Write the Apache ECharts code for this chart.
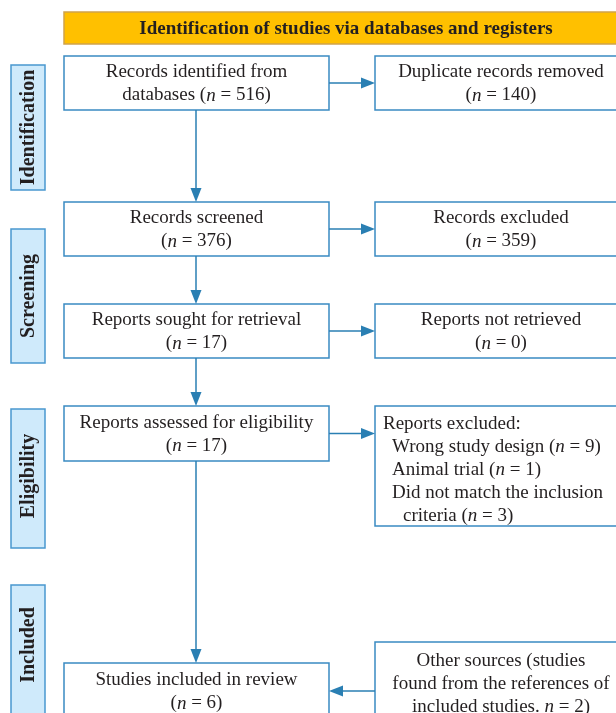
<!DOCTYPE html>
<html><head><meta charset="utf-8">
<script src="https://cdn.jsdelivr.net/npm/echarts@6/dist/echarts.min.js"></script>
<style>html,body{margin:0;padding:0;background:#fff}#c{width:616px;height:713px}</style>
</head><body><div id="c"></div><script>
// ---- data ----
const headerTitle = 'Identification of studies via databases and registers';
const stages = ['Identification', 'Screening', 'Eligibility', 'Included'];
const mainTitles = ['Records identified from\ndatabases', 'Records screened', 'Reports sought for retrieval', 'Reports assessed for eligibility', 'Studies included in review'];
const mainCounts = [516, 376, 17, 17, 6];
const sideTitles = ['Duplicate records removed', 'Records excluded', 'Reports not retrieved', 'Reports excluded:', 'Other sources (studies\nfound from the references of\nincluded studies.'];
const sideCounts = [140, 359, 0, null, 2];
const exclusionReasons = ['Wrong study design', 'Animal trial', 'Did not match the inclusion\ncriteria'];
const exclusionCounts = [9, 1, 3];

// ---- layout (in a 616 x 713 data space) ----
const layout = {
  header: [64, 12, 628, 44],
  mainX: [64, 329],
  sideX: [375, 627],
  stageX: [11, 45],
  mainY: [[56, 110], [202, 256], [304, 358], [406, 461], [663, 719]],
  sideY: [[56, 110], [202, 256], [304, 358], [406, 526], [642, 724]],
  stageY: [[65, 190], [229, 363], [409, 548], [585, 740]],
  stageLabelY: [127.5, 296, 476, 645],
  spineX: 196,
  lineH: 23,
  listX: [383, 392, 403],
  listTop: 424
};
const sty = {
  text: '#231f20',
  font: '"Liberation Serif", "Times New Roman", serif',
  size: 19,
  titleSize: 19,
  stageSize: 20,
  boxStroke: '#3a8bc2',
  arrow: '#2a7fb3',
  stageFill: '#cfeafb',
  stageStroke: '#4a98cf',
  headerFill: '#ffc000',
  headerStroke: '#cfa24b'
};
const rich = {
  r: { fontFamily: sty.font, fontSize: sty.size, fill: sty.text, lineHeight: layout.lineH },
  i: { fontFamily: sty.font, fontSize: sty.size, fontStyle: 'italic', fill: sty.text, lineHeight: layout.lineH }
};
const nTok = c => '{i|n}{r| = ' + c + ')}';
function mainText(i) {
  const t = mainTitles[i];
  const lines = t.split('\n').map(l => '{r|' + l + '}');
  if (t.indexOf('\n') >= 0) lines[lines.length - 1] += '{r| (}' + nTok(mainCounts[i]);
  else lines.push('{r|(}' + nTok(mainCounts[i]));
  return lines.join('\n');
}
function sideText(i) {
  const t = sideTitles[i];
  const lines = t.split('\n').map(l => '{r|' + l + '}');
  if (t.indexOf('\n') >= 0) lines[lines.length - 1] += '{r| }' + nTok(sideCounts[i]);
  else lines.push('{r|(}' + nTok(sideCounts[i]));
  return lines.join('\n');
}

// build item list
const items = [];
items.push({ kind: 'header' });
stages.forEach((s, i) => items.push({ kind: 'stage', i }));
mainTitles.forEach((s, i) => items.push({ kind: 'main', i }));
sideTitles.forEach((s, i) => items.push({ kind: 'side', i }));
for (let i = 0; i < mainTitles.length - 1; i++) items.push({ kind: 'vArrow', i });
for (let i = 0; i < sideTitles.length; i++) items.push({ kind: 'hArrow', i });

function rectShape(api, x0, y0, x1, y1) {
  const a = api.coord([x0, y0]), b = api.coord([x1, y1]);
  return { x: a[0], y: a[1], width: b[0] - a[0], height: b[1] - a[1] };
}
function arrowEls(api, from, to) {
  const a = api.coord(from), b = api.coord(to);
  const dx = b[0] - a[0], dy = b[1] - a[1];
  const len = Math.sqrt(dx * dx + dy * dy), ux = dx / len, uy = dy / len;
  const hl = 14, hw = 5.5;
  const bx = b[0] - ux * hl, by = b[1] - uy * hl;
  return [
    { type: 'line', shape: { x1: a[0], y1: a[1], x2: bx, y2: by }, style: { stroke: sty.arrow, lineWidth: 1.5 } },
    { type: 'polygon', shape: { points: [[b[0], b[1]], [bx - uy * hw, by + ux * hw], [bx + uy * hw, by - ux * hw]] }, style: { fill: sty.arrow } }
  ];
}

function renderItem(params, api) {
  const it = items[params.dataIndex];
  const L = layout;
  if (it.kind === 'header') {
    const h = L.header;
    const c = api.coord([(h[0] + h[2]) / 2, (h[1] + h[3]) / 2]);
    return { type: 'group', children: [
      { type: 'rect', shape: rectShape(api, h[0], h[1], h[2], h[3]), style: { fill: sty.headerFill, stroke: sty.headerStroke, lineWidth: 1.5 } },
      { type: 'text', style: { x: c[0], y: c[1] + 1, text: headerTitle, font: 'bold ' + sty.titleSize + 'px ' + sty.font, fill: sty.text, align: 'center', verticalAlign: 'middle' } }
    ] };
  }
  if (it.kind === 'stage') {
    const y = L.stageY[it.i];
    const c = api.coord([(L.stageX[0] + L.stageX[1]) / 2 + 1, L.stageLabelY[it.i]]);
    return { type: 'group', children: [
      { type: 'rect', shape: rectShape(api, L.stageX[0], y[0], L.stageX[1], y[1]), style: { fill: sty.stageFill, stroke: sty.stageStroke, lineWidth: 1.5 } },
      { type: 'text', x: c[0], y: c[1], rotation: Math.PI / 2, style: { x: 0, y: 0, text: stages[it.i], font: 'bold ' + sty.stageSize + 'px ' + sty.font, fill: sty.text, align: 'center', verticalAlign: 'middle' } }
    ] };
  }
  if (it.kind === 'main') {
    const y = L.mainY[it.i];
    const c = api.coord([(L.mainX[0] + L.mainX[1]) / 2, (y[0] + y[1]) / 2 + 1]);
    return { type: 'group', children: [
      { type: 'rect', shape: rectShape(api, L.mainX[0], y[0], L.mainX[1], y[1]), style: { fill: '#fff', stroke: sty.boxStroke, lineWidth: 1.5 } },
      { type: 'text', style: { x: c[0], y: c[1], text: mainText(it.i), rich: rich, align: 'center', verticalAlign: 'middle' } }
    ] };
  }
  if (it.kind === 'side') {
    const y = L.sideY[it.i];
    const children = [
      { type: 'rect', shape: rectShape(api, L.sideX[0], y[0], L.sideX[1], y[1]), style: { fill: '#fff', stroke: sty.boxStroke, lineWidth: 1.5 } }
    ];
    if (sideCounts[it.i] === null) {
      const lines = [{ t: '{r|' + sideTitles[it.i] + '}', x: L.listX[0] }];
      exclusionReasons.forEach((r, k) => {
        const parts = r.split('\n');
        parts.forEach((p, j) => {
          let t = '{r|' + p + '}';
          if (j === parts.length - 1) t += '{r| (}' + nTok(exclusionCounts[k]);
          lines.push({ t, x: j === 0 ? L.listX[1] : L.listX[2] });
        });
      });
      lines.forEach((ln, k) => {
        const p = api.coord([ln.x, L.listTop + k * L.lineH]);
        children.push({ type: 'text', style: { x: p[0], y: p[1], text: ln.t, rich: rich, align: 'left', verticalAlign: 'middle' } });
      });
    } else {
      const c = api.coord([(L.sideX[0] + L.sideX[1]) / 2, (y[0] + y[1]) / 2 + 1]);
      children.push({ type: 'text', style: { x: c[0], y: c[1], text: sideText(it.i), rich: rich, align: 'center', verticalAlign: 'middle' } });
    }
    return { type: 'group', children };
  }
  if (it.kind === 'vArrow') {
    return { type: 'group', children: arrowEls(api, [L.spineX, L.mainY[it.i][1]], [L.spineX, L.mainY[it.i + 1][0]]) };
  }
  if (it.kind === 'hArrow') {
    const y = (L.mainY[it.i][0] + L.mainY[it.i][1]) / 2;
    const last = it.i === sideTitles.length - 1;
    return { type: 'group', children: last ? arrowEls(api, [L.sideX[0], y], [L.mainX[1], y]) : arrowEls(api, [L.mainX[1], y], [L.sideX[0], y]) };
  }
}

const chart = echarts.init(document.getElementById('c'), null, { renderer: 'canvas' });
chart.setOption({
  animation: false,
  grid: { left: 0, right: 0, top: 0, bottom: 0 },
  xAxis: { type: 'value', min: 0, max: 616, show: false },
  yAxis: { type: 'value', min: 0, max: 713, inverse: true, show: false },
  series: [{
    type: 'custom',
    clip: false,
    renderItem: renderItem,
    data: items.map((d, i) => [0, 0, i])
  }]
});
</script></body></html>
